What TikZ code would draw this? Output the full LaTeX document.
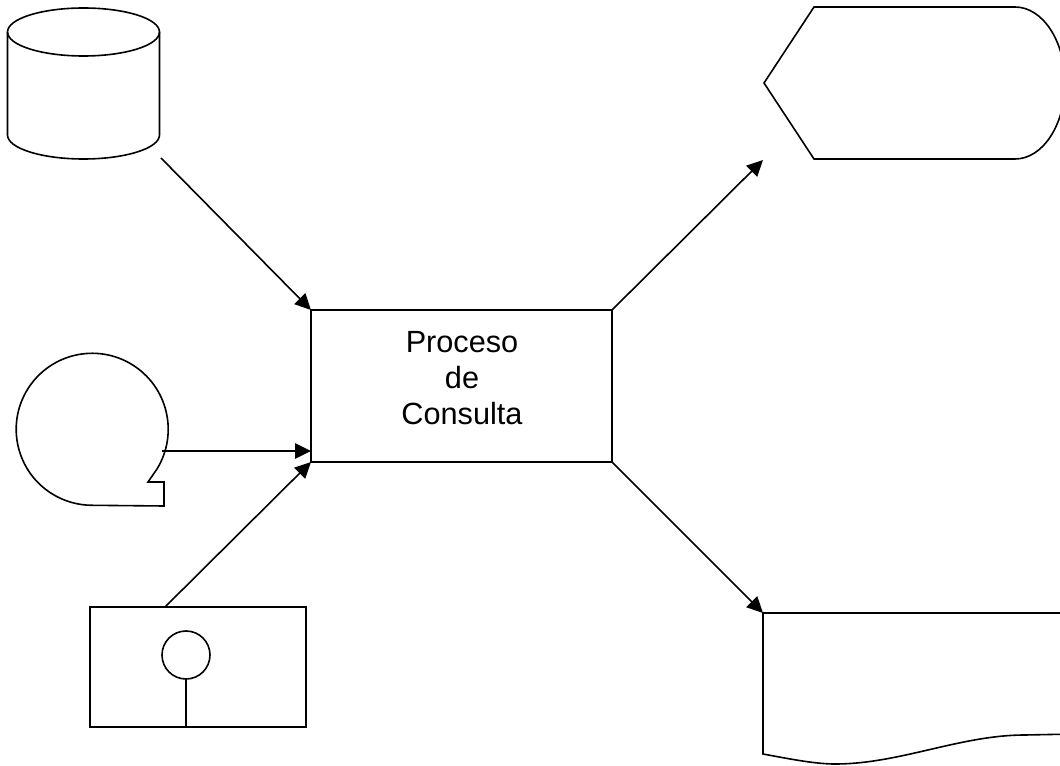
\documentclass[tikz,border=0pt]{standalone}
\usepackage{fontspec}
\setmainfont{Liberation Sans}
\usetikzlibrary{arrows.meta}
\begin{document}
\begin{tikzpicture}[x=0.75pt, y=-0.75pt,
  shapeline/.style={line width=1.2pt, line join=miter},
  conn/.style={line width=1.2pt, -{Triangle[length=12pt,width=11.5pt]}},
  procbox/.style={draw, line width=1.2pt, rectangle, inner sep=0pt, outer sep=0pt,
    minimum width=225.75pt, minimum height=114pt},
  proctext/.style={align=center, inner sep=0pt, font=\fontsize{23}{27}\selectfont}]
\useasboundingbox (0,0) rectangle (1060,766);
\clip (0,0) rectangle (1060,766);

% central process
\node[procbox] (proc) at (461.5,386) {};
\node[proctext] (proclabel) at (462,378) {Proceso\\de\\Consulta};

% stored data (cylinder)
\draw[shapeline] (83.5,32) ellipse [x radius=76, y radius=24];
\draw[shapeline] (7.5,32) -- (7.5,135)
  arc[start angle=180, end angle=0, x radius=76, y radius=24] -- (159.5,32);
\coordinate (cylout) at (161,158);

% magnetic tape
\draw[shapeline] (157,469) arc[start angle=31.5, end angle=-270, radius=76]
  -- (164,506) -- (164,482) -- (148,482) -- cycle;
\coordinate (tapeout) at (162,451);

% manual input box with circle
\draw[shapeline] (90,607) rectangle (306,727);
\draw[shapeline] (186,655) circle [radius=24];
\draw[shapeline] (186,679) -- (186,727);
\coordinate (boxout) at (165,607);

% display
\draw[shapeline] (764,83) -- (814,7) -- (1015,7)
  arc[start angle=-90, end angle=90, x radius=50, y radius=76]
  -- (814,159) -- cycle;
\coordinate (dispin) at (763,160);

% document
\draw[shapeline] (1075,613) -- (763,613) -- (763,754)
  .. controls (790,759) and (815,764) .. (835,764)
  .. controls (900,764) and (960,735) .. (1025,735) -- (1075,734);
\coordinate (docin) at (763,613);

% connectors
\draw[conn] (cylout) -- (proc.north west);
\draw[conn] (tapeout) -- (tapeout -| proc.west);
\draw[conn] (boxout) -- (proc.south west);
\draw[conn] (proc.north east) -- (dispin);
\draw[conn] (proc.south east) -- (docin);
\end{tikzpicture}
\end{document}
